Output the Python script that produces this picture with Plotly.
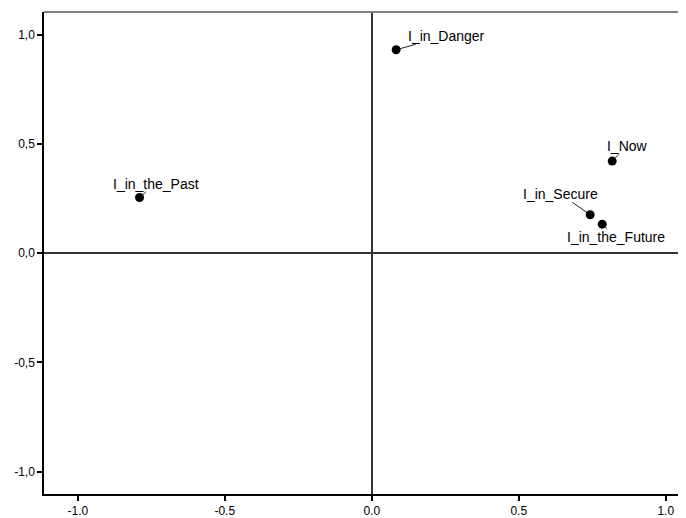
import plotly.graph_objects as go

labels = ["I_in_Danger", "I_Now", "I_in_Secure", "I_in_the_Future", "I_in_the_Past"]
x_vals = [0.083, 0.818, 0.743, 0.784, -0.790]
y_vals = [0.932, 0.422, 0.176, 0.133, 0.255]
# label offsets in pixels (text centre relative to point)
label_dx = [50, 15, -30, 14, 16]
label_dy = [-14, -15, -21, 13, -14]

x_ticks = [-1.0, -0.5, 0.0, 0.5, 1.0]
x_ticktext = ["-1.0", "-0.5", "0.0", "0.5", "1.0"]
y_ticks = [-1.0, -0.5, 0.0, 0.5, 1.0]
y_ticktext = ["-1,0", "-0,5", "0,0", "0,5", "1,0"]

FONT = "Liberation Sans, Arial, sans-serif"

fig = go.Figure()
fig.add_trace(go.Scatter(
    x=x_vals, y=y_vals, mode="markers",
    marker=dict(color="black", size=9),
    hoverinfo="text", text=labels, showlegend=False,
))

for lab, x, y, dx, dy in zip(labels, x_vals, y_vals, label_dx, label_dy):
    fig.add_annotation(
        x=x, y=y, text=lab, showarrow=True, ax=dx, ay=dy,
        arrowhead=0, arrowwidth=1, arrowcolor="#222222", standoff=4,
        borderpad=0,
        font=dict(family=FONT, size=14, color="black"),
    )

# top frame line (grey)
fig.add_shape(type="line", xref="paper", yref="paper", x0=0, x1=1, y0=1, y1=1,
              line=dict(color="#808080", width=2))

fig.update_xaxes(
    range=[-1.115, 1.069], tickvals=x_ticks, ticktext=x_ticktext,
    showgrid=False, zeroline=True, zerolinecolor="#333333", zerolinewidth=1.5,
    showline=True, linecolor="black", linewidth=1.5,
    ticks="outside", ticklen=5, tickcolor="black", tickwidth=1.5,
    tickfont=dict(family=FONT, size=12, color="black"),
)
fig.update_yaxes(
    range=[-1.103, 1.105], tickvals=y_ticks, ticktext=y_ticktext,
    showgrid=False, zeroline=True, zerolinecolor="#333333", zerolinewidth=1.5,
    showline=True, linecolor="black", linewidth=1.5,
    ticks="outside", ticklen=5, tickcolor="black", tickwidth=1.5,
    tickfont=dict(family=FONT, size=12, color="black"),
)

fig.update_layout(
    width=678, height=510,
    margin=dict(l=36, r=0, t=4, b=22),
    plot_bgcolor="white", paper_bgcolor="white",
)

fig.write_html("out.html")
